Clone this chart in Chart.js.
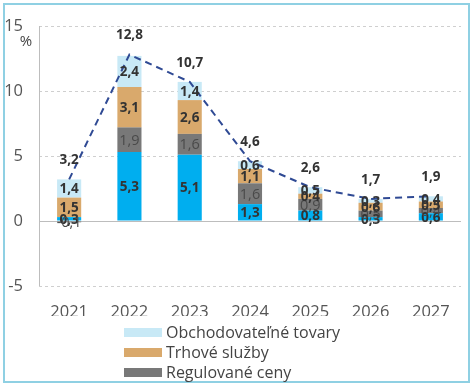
<!DOCTYPE html>
<html>
<head>
<meta charset="utf-8">
<script src="https://cdn.jsdelivr.net/npm/chart.js@4.4.1/dist/chart.umd.min.js"></script>
<style>
  html, body { margin: 0; padding: 0; background: #fff; }
  #wrap { position: relative; width: 474px; height: 389px; overflow: hidden; font-family: "Open Sans", sans-serif; }
  #frame { position: absolute; left: 3px; top: 3px; width: 463px; height: 376px; border: 2px solid #8fd0e3; }
  #chart { position: absolute; left: 0; top: 0; }
  #legend { position: absolute; left: 124px; top: 322px; }
  .item { display: flex; align-items: center; height: 20px; font-size: 16px; color: #444; white-space: nowrap; }
  .box { width: 38px; height: 9px; margin-right: 4px; }
</style>
</head>
<body>
<div id="wrap">
  <div id="frame"></div>
  <canvas id="chart" width="474" height="389"></canvas>
  <div id="legend"></div>
</div>
<script>
// --- data ---
const years = ['2021', '2022', '2023', '2024', '2025', '2026', '2027'];
const blueSeries = [0.3, 5.3, 5.1, 1.3, 0.8, 0.3, 0.6];
const regulatedPrices = [-0.1, 1.9, 1.6, 1.6, 0.9, 0.5, 0.4];
const marketServices = [1.5, 3.1, 2.6, 1.1, 0.4, 0.6, 0.5];
const tradableGoods = [1.4, 2.4, 1.4, 0.6, 0.5, 0.3, 0.4];
const totalInflation = [3.2, 12.8, 10.7, 4.6, 2.6, 1.7, 1.9];
const yTicks = [-5, 0, 5, 10, 15];

const fmt = v => v.toFixed(1).replace('.', ',');

// legend (only the three named series are visible in the picture)
const legendItems = [
  ['Obchodovateľné tovary', '#c8e9f6'],
  ['Trhové služby', '#d9a96c'],
  ['Regulované ceny', '#787878']
];
const legendEl = document.getElementById('legend');
legendItems.forEach(([name, color]) => {
  const row = document.createElement('div');
  row.className = 'item';
  row.innerHTML = `<span class="box" style="background:${color}"></span><span>${name}</span>`;
  legendEl.appendChild(row);
});

// axis lines + value labels
const decorPlugin = {
  id: 'decor',
  beforeDatasetsDraw(chart) {
    const { ctx, chartArea, scales: { y } } = chart;
    ctx.save();
    ctx.strokeStyle = '#bdbdbd';
    ctx.lineWidth = 1;
    ctx.beginPath();
    const y0 = Math.round(y.getPixelForValue(0)) + 0.5;
    ctx.moveTo(chartArea.left, y0);
    ctx.lineTo(chartArea.right, y0);
    const x0 = Math.round(chartArea.left) + 0.5;
    ctx.moveTo(x0, chartArea.top);
    ctx.lineTo(x0, chartArea.bottom);
    ctx.stroke();
    // unit
    ctx.fillStyle = '#444';
    ctx.font = '15px "Open Sans"';
    ctx.textAlign = 'center';
    ctx.textBaseline = 'middle';
    ctx.fillText('%', 26, 42);
    ctx.restore();
  },
  afterDatasetsDraw(chart) {
    const { ctx } = chart;
    ctx.save();
    ctx.textAlign = 'center';
    ctx.textBaseline = 'middle';
    chart.data.datasets.forEach((ds, di) => {
      const meta = chart.getDatasetMeta(di);
      meta.data.forEach((el, i) => {
        const v = ds.data[i];
        if (ds.type === 'line') {
          ctx.font = 'bold 13.5px "Open Sans"';
          ctx.fillStyle = '#333';
          ctx.fillText(fmt(v), el.x, el.y - 19);
        } else {
          const cy = (el.y + el.base) / 2;
          if (ds.isGray) {
            ctx.font = '14.5px "Open Sans"';
            ctx.fillStyle = '#4a4a4a';
          } else {
            ctx.font = 'bold 13.5px "Open Sans"';
            ctx.fillStyle = '#333';
          }
          ctx.fillText(fmt(v), el.x, cy + 1);
        }
      });
    });
    ctx.restore();
  }
};

const barCommon = { type: 'bar', stack: 'bars', order: 1, barPercentage: 0.4, categoryPercentage: 1 };

new Chart(document.getElementById('chart'), {
  data: {
    labels: years,
    datasets: [
      { ...barCommon, label: 'blue', data: blueSeries, backgroundColor: '#00aeef' },
      { ...barCommon, label: 'Regulované ceny', data: regulatedPrices, backgroundColor: '#787878', isGray: true },
      { ...barCommon, label: 'Trhové služby', data: marketServices, backgroundColor: '#d9a96c' },
      { ...barCommon, label: 'Obchodovateľné tovary', data: tradableGoods, backgroundColor: '#c8e9f6' },
      {
        type: 'line', label: 'total', data: totalInflation, stack: 'line', order: 0,
        borderColor: '#2f4a94', borderWidth: 2, borderDash: [7, 5],
        pointRadius: 0, fill: false, tension: 0
      }
    ]
  },
  options: {
    responsive: false,
    animation: false,
    layout: { padding: { top: 26, right: 13, bottom: 73, left: 0 } },
    plugins: { legend: { display: false }, tooltip: { enabled: false } },
    scales: {
      x: {
        stacked: true,
        grid: { display: false },
        border: { display: false },
        ticks: { color: '#555', font: { family: 'Open Sans', size: 16.5 }, padding: 8 },
        afterFit: s => { s.height = 30; }
      },
      y: {
        stacked: true,
        min: -5, max: 15,
        afterBuildTicks: s => { s.ticks = yTicks.map(v => ({ value: v })); },
        grid: { color: '#cfcfcf', drawTicks: false },
        border: { display: false, dash: [3, 3] },
        ticks: { color: '#555', font: { family: 'Open Sans', size: 16.5 }, padding: 16 },
        afterFit: s => { s.width = 39; }
      }
    }
  },
  plugins: [decorPlugin]
});
</script>
</body>
</html>
